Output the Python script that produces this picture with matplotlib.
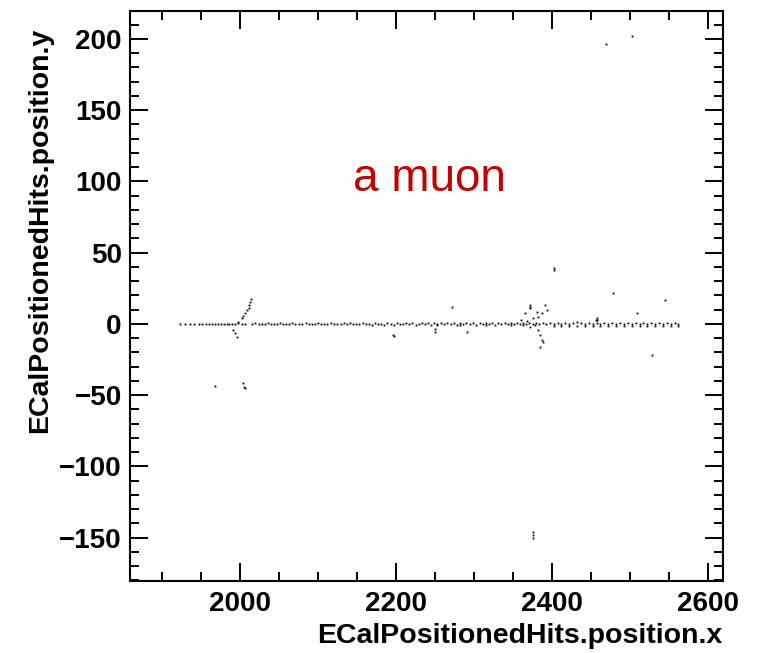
import matplotlib
matplotlib.use("Agg")
import matplotlib.pyplot as plt
from matplotlib.ticker import MultipleLocator

plt.rcParams['font.family'] = ['Liberation Sans', 'DejaVu Sans']

# hits along the muon track (y close to zero)
track_x = [1923, 1929, 1936, 1941, 1947, 1951, 1956, 1960, 1964, 1968, 1972, 1975,
           1979, 1983, 1986, 1990, 1994, 1998, 2003, 2007, 2015, 2019, 2024, 2028,
           2032, 2036, 2040, 2044, 2048, 2051, 2055, 2059, 2063, 2067, 2071, 2075,
           2079, 2084, 2088, 2092, 2096, 2100, 2104, 2108, 2112, 2116, 2120, 2124,
           2129, 2133, 2137, 2141, 2145, 2149, 2153, 2157, 2161, 2165, 2169, 2173,
           2177, 2181, 2185, 2189, 2193, 2197, 2201, 2205, 2209, 2213, 2217, 2221,
           2225, 2229, 2233, 2237, 2241, 2245, 2249, 2253, 2257, 2261, 2265, 2270,
           2274, 2278, 2282, 2286, 2290, 2295, 2299, 2303, 2307, 2311, 2315, 2319,
           2323, 2327, 2331, 2335, 2339, 2343, 2347, 2351, 2355, 2359, 2363, 2367,
           2371, 2375, 2379, 2383, 2388, 2392, 2397, 2402, 2407, 2412, 2417, 2422,
           2427, 2432, 2437, 2442, 2447, 2452, 2457, 2462, 2467, 2472, 2477, 2482,
           2487, 2492, 2497, 2502, 2507, 2512, 2517, 2522, 2527, 2532, 2537, 2542,
           2547, 2552, 2557, 2561]
track_y = [0, 0, 0, 0, 0, 0.3, 0, 0, 0.3, 0, 0, 0.3,
           0, 0, 0, 0.3, 0, 0.6, 0, 0.3, 0, 0.6, 0, 0.3,
           0, 0.6, 0, 0.3, 0, 0.6, 0, 0.3, 0, 0.6, 0, 0.3,
           0, 0.6, 0, 0.3, 0, 0.6, 0, 0.3, 0, 0.6, 0, 0.3,
           0, 0.6, 0, 1.0, 0, 0.3, 0, 0.6, 0, 0.3, -0.4, 0.6,
           0, 0.3, -0.4, 0.6, 0, -0.4, 0.6, 0, 0.3, 1.0, 0, 0.6,
           -0.4, 0.3, 1.0, 0, 0.6, -0.4, 1.0, 0, 0.6, 0, 1.0, 0,
           0.6, -0.4, 1.0, 0, 0.6, 0, 1.0, -0.4, 0.6, 0, 1.0, 0,
           0.6, -0.4, 1.0, 0, 0.6, 0, 1.0, 0.3, 0.6, 0, 1.0, 0.3,
           0.6, 0, 1.0, 0.3, 0.6, 0, 1.0, 0, 0.6, 0, 1.0, 0.3,
           0.6, 1.4, 0.6, 0, 1.0, 0.3, 1.0, 0, 1.0, 0.3, 1.0, 0,
           1.0, 0.3, 1.0, 0, 1.0, 0.3, 1.0, 0, 1.0, 0.3, 1.0, 0,
           1.0, 0.3, 1.0, 0]

# second hit below the track in the later layers
lower_x = [2253, 2282, 2315, 2347, 2363, 2402, 2412, 2422, 2432, 2442, 2452, 2462,
           2472, 2482, 2492, 2502, 2512, 2522, 2532, 2542, 2552, 2561]
lower_y = [-1.0, -1.0, -1.0, -1.0, -1.0, -1.2, -1.2, -1.2, -1.2, -1.2, -1.2, -1.2,
           -1.2, -1.2, -1.2, -1.2, -1.2, -1.2, -1.2, -1.2, -1.2, -1.2]

# small showers near x~2010 and x~2380
shower_x = [2013.5, 2012.8, 2012, 2011, 2009.4, 2006.4, 2004, 2002.2, 1997.8, 1991.4,
            1993.6, 1995.8,
            2371.8, 2371.8, 2371.8, 2391, 2393.2, 2386.8, 2382.5, 2365.4, 2380.4,
            2376.1, 2360, 2368, 2378.2, 2371.8, 2382.5, 2384.6, 2386.8, 2388.9, 2384.6]
shower_y = [17.5, 15.6, 13.3, 11.5, 9.8, 7.5, 5.5, 4.0, 1.2, -4.2,
            -6.1, -8.9,
            13.3, 12.2, 11.0, 13.3, 9.8, 7.5, 5.1, 7.5, 8.6,
            4.0, 3.0, 2.0, -0.7, -1.9, -4.2, -7.7, -11.2, -12.4, -16.4]

# isolated hits
stray_x = [2402.6, 2402.6, 2271.4, 2478.6, 2544.9, 2508.6, 2250, 2250, 2290.6, 2527.8,
           2457, 2456, 2458, 2196.6, 2197.5, 2469.3, 2502, 1968, 2004.2, 2005,
           2006.4, 2375.7, 2375.7, 2375.7]
stray_y = [39.1, 37.5, 12.1, 21.5, 16.8, 7.5, -5.4, -3.8, -5.4, -21.8,
           4.0, 2.5, 2.5, -7.7, -8.8, 196.5, 202.3, -43.5, -41.6, -44.0,
           -45.1, -146, -148, -150]

fig = plt.figure(figsize=(7.61, 6.53), dpi=100)
ax = fig.add_axes([130/761, 1-581/653, 593/761, 570/653])

for xs, ys in [(track_x, track_y), (lower_x, lower_y), (shower_x, shower_y), (stray_x, stray_y)]:
    ax.plot(xs, ys, linestyle='none', marker='s', markersize=1.3,
            markeredgewidth=0, color='black')

ax.set_xlim(1859, 2619)
ax.set_ylim(-180.4, 219.6)

ax.xaxis.set_major_locator(MultipleLocator(200))
ax.xaxis.set_minor_locator(MultipleLocator(50))
ax.yaxis.set_major_locator(MultipleLocator(50))
ax.yaxis.set_minor_locator(MultipleLocator(10))

ax.tick_params(which='both', direction='in', top=True, right=True, width=1.4,
               labelsize=20)
ax.tick_params(which='major', length=13)
ax.tick_params(which='minor', length=6.5)
ax.tick_params(axis='x', pad=7)
ax.tick_params(axis='y', pad=6)
for lab in ax.get_xticklabels() + ax.get_yticklabels():
    lab.set_fontweight('bold')
for sp in ax.spines.values():
    sp.set_linewidth(1.5)

ax.text(2243, 102, 'a muon', color='#c00000', fontsize=33, ha='center', va='center')

fig.text(722/761, 1-636/653, 'ECalPositionedHits.position.x', fontsize=20.5,
         fontweight='bold', ha='right', va='center')
fig.text(40/761, 1-28/653, 'ECalPositionedHits.position.y', fontsize=20.5,
         fontweight='bold', ha='center', va='top', rotation=90)

fig.savefig('out.png', dpi=100, facecolor='white')
